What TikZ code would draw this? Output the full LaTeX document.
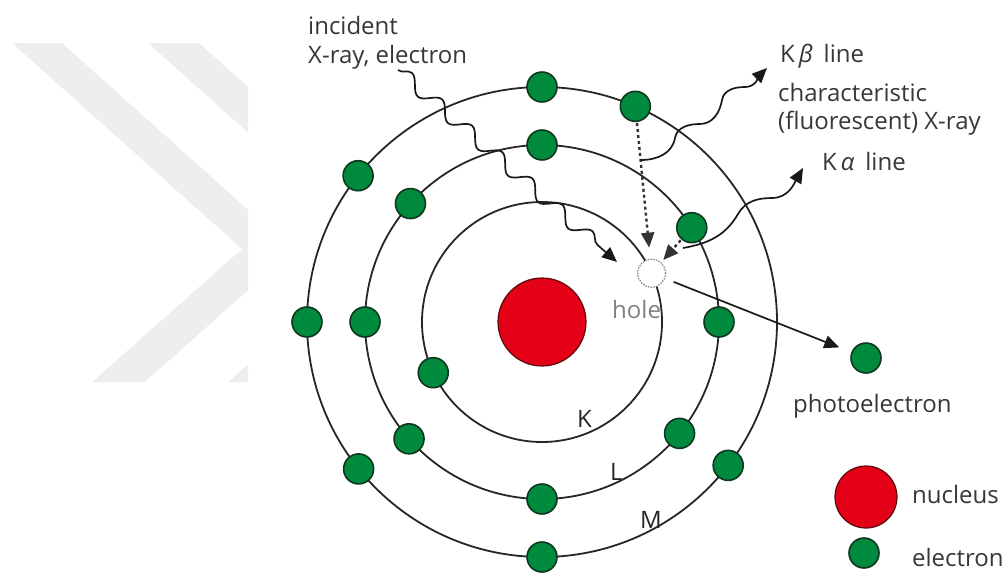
\documentclass[tikz,border=0pt]{standalone}
\usepackage{fontspec}
\setmainfont{Open Sans}
\usetikzlibrary{arrows.meta,decorations.pathmorphing,calc}
\definecolor{egreen}{RGB}{0,138,62}
\definecolor{eedge}{RGB}{15,55,30}
\definecolor{nred}{RGB}{228,0,22}
\definecolor{nedge}{RGB}{90,10,10}
\definecolor{ink}{RGB}{55,55,55}
\definecolor{wm}{RGB}{238,238,238}
\begin{document}
\begin{tikzpicture}[x=1pt,y=-1pt,
  orbit/.style={draw=black!85, line width=1.8pt},
  electron/.style={circle, fill=egreen, draw=eedge, line width=1.6pt, minimum size=30pt, inner sep=0pt},
  nucleus/.style={circle, fill=nred, draw=nedge, line width=1.2pt, inner sep=0pt},
  holemark/.style={circle, fill=white, draw=black!45, dash pattern=on 1.5pt off 1.2pt, line width=1.3pt, minimum size=28pt, inner sep=0pt},
  lbl/.style={text=ink, font=\fontsize{24}{28}\selectfont, inner sep=0pt, anchor=base west},
  tip/.style={-{Triangle[length=15pt,width=13pt]}},
  ray/.style={tip, draw=black!90, line width=1.7pt},
  fall/.style={tip, draw=black!80, line width=2.4pt, dash pattern=on 3pt off 3pt},
]
\useasboundingbox (0,0) rectangle (1007,573);

% faint chevron backdrop
\begin{scope}
  \clip (0,43) rectangle (248,382);
  \fill[wm] (12,43) -- (62,43) -- (293,250) -- (145,382) -- (92,382) -- (242,249) -- cycle;
  \fill[wm] (148,43) -- (199,43) -- (430,250) -- (282,382) -- (228,382) -- (378,249) -- cycle;
\end{scope}

% nucleus and shells
\coordinate (c) at (542,322);
\draw[orbit] (c) circle[radius=120];
\draw[orbit] (c) circle[radius=177];
\draw[orbit] (c) circle[radius=235];
\node[nucleus, minimum size=88pt] (nuc) at (c) {};

% K shell
\node[electron] (k1) at ($(c)+(155:120)$) {};
\node[holemark] (hole) at ($(c)+(-24:120)$) {};
% L shell
\node[electron] (l1) at ($(c)+(-90:177)$) {};
\node[electron] (l2) at ($(c)+(-138:177)$) {};
\node[electron] (l3) at ($(c)+(180:177)$) {};
\node[electron] (l4) at ($(c)+(138.7:177)$) {};
\node[electron] (l5) at ($(c)+(90:177)$) {};
\node[electron] (l6) at ($(c)+(39:177)$) {};
\node[electron] (l7) at ($(c)+(0:177)$) {};
\node[electron] (l8) at ($(c)+(-32.2:177)$) {};
% M shell
\node[electron] (m1) at ($(c)+(-90:235)$) {};
\node[electron] (m2) at ($(c)+(-66.6:235)$) {};
\node[electron] (m3) at ($(c)+(-141.5:235)$) {};
\node[electron] (m4) at ($(c)+(180:235)$) {};
\node[electron] (m5) at ($(c)+(141.3:235)$) {};
\node[electron] (m6) at ($(c)+(90:235)$) {};
\node[electron] (m7) at ($(c)+(37.6:235)$) {};

% shell letters
\node[lbl, text=black!85] (kname) at (577,427) {K};
\node[lbl, text=black!85] (lname) at (610,480) {L};
\node[lbl, text=black!85] (mname) at (640,528) {M};
\node[lbl, text=black!50] (holename) at (612,318) {hole};

% ejected electron
\node[electron] (photo) at (866,358) {};
\node[lbl] (photoname) at (793,412) {photoelectron};
\draw[ray, shorten <=9pt, shorten >=13pt] (hole) -- (photo);

% electrons dropping into the hole
\draw[fall, shorten <=1pt, shorten >=11pt] (m2) -- (hole);
\draw[fall, shorten <=1pt, shorten >=3pt] (l8) -- (hole);

% incident radiation
\coordinate (incS) at (398,70);
\coordinate (incE) at (617,262);
\draw[ray, decorate, decoration={snake, segment length=40pt, amplitude=7pt, post length=10pt}] (incS) -- (incE);
\node[lbl] (inc1) at (308,34) {incident};
\node[lbl] (inc2) at (308,63) {X-ray, electron};

% characteristic X-rays
\coordinate (kbS) at (641,160);
\coordinate (kbE) at (767,68);
\draw[ray] (kbS) to[out=0,in=-100] (675,138) to[out=80,in=180] (700,124)
  to[out=0,in=-100] (722,100) to[out=80,in=180] (745,87) to[out=0,in=-135] (kbE);
\coordinate (kaS) at (683,248);
\coordinate (kaE) at (803,168);
\draw[ray] (kaS) to[out=10,in=-120] (738,214) to[out=60,in=180] (772,198)
  to[out=0,in=-120] (kaE);

\node[lbl] (kbname) at (780,62) {K\,{\itshape β}\hspace{0.45em}line};
\node[lbl] (char1) at (778,101) {characteristic};
\node[lbl] (char2) at (778,129) {(fluorescent) X-ray};
\node[lbl] (kaname) at (822,170) {K\,{\itshape α}\hspace{0.45em}line};

% legend
\node[nucleus, minimum size=62pt] (legn) at (866,497) {};
\node[lbl] (legnname) at (912,503) {nucleus};
\node[electron] (lege) at (864,553) {};
\node[lbl] (legename) at (912,566) {electron};
\end{tikzpicture}
\end{document}
